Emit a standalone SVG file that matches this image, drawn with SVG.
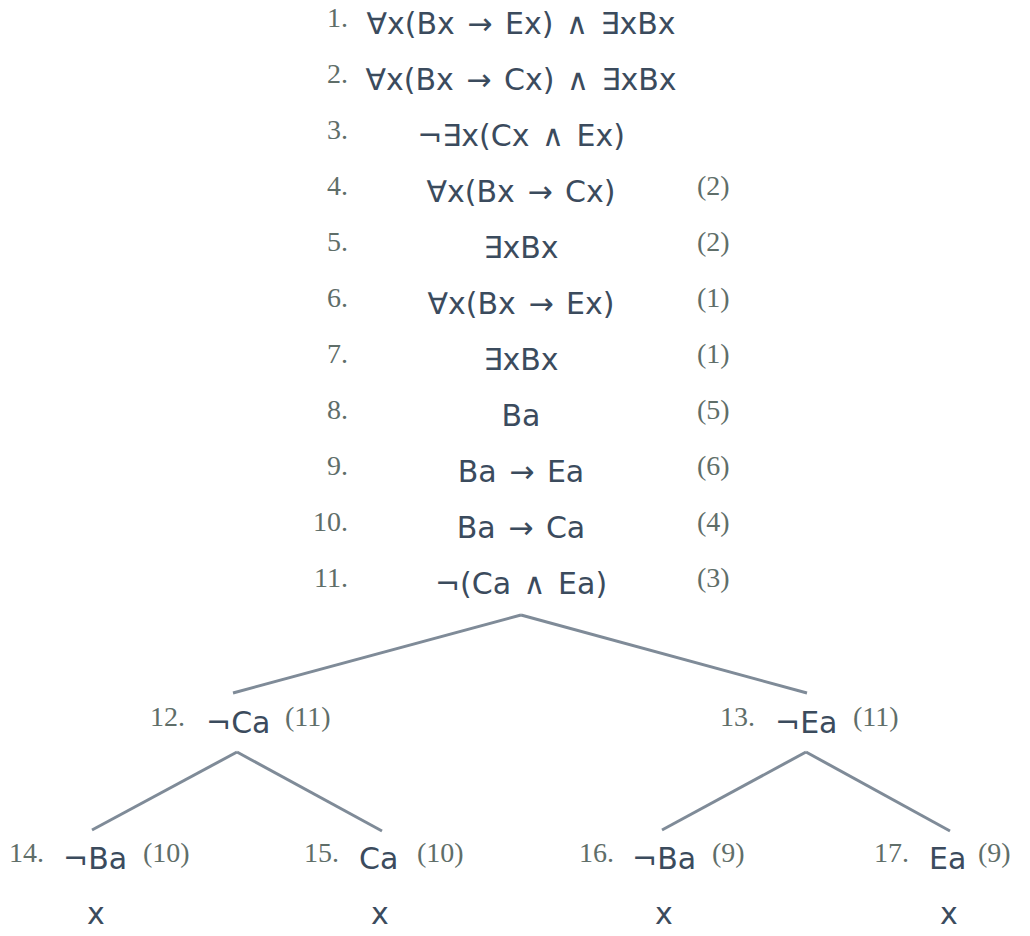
<svg xmlns="http://www.w3.org/2000/svg" width="1030" height="936" viewBox="0 0 1030 936">
<style>
.f{font-family:"DejaVu Sans",Verdana,sans-serif;font-size:30px;fill:#3b4b5d;word-spacing:3px}
.c{text-anchor:middle}
.n{font-family:"Liberation Serif","Times New Roman",serif;font-size:28px;fill:#5f6e69}
.r{text-anchor:end}
.ln{stroke:#7f8b98;stroke-width:3;fill:none}
</style>
<rect width="1030" height="936" fill="#ffffff"/>
<g id="connectors">
<line class="ln" x1="521" y1="615" x2="233" y2="693"/>
<line class="ln" x1="521" y1="615" x2="807" y2="693"/>
<line class="ln" x1="237" y1="752" x2="92" y2="830"/>
<line class="ln" x1="237" y1="752" x2="382" y2="831"/>
<line class="ln" x1="806" y1="752" x2="662" y2="830"/>
<line class="ln" x1="806" y1="752" x2="950" y2="831"/>
</g>
<g id="line1"><text class="n r" x="348" y="27">1.</text><text class="f c" x="521" y="34">∀x(Bx → Ex) ∧ ∃xBx</text></g>
<g id="line2"><text class="n r" x="348" y="83">2.</text><text class="f c" x="521" y="90">∀x(Bx → Cx) ∧ ∃xBx</text></g>
<g id="line3"><text class="n r" x="348" y="139">3.</text><text class="f c" x="521" y="146">¬∃x(Cx ∧ Ex)</text></g>
<g id="line4"><text class="n r" x="348" y="195">4.</text><text class="f c" x="521" y="202">∀x(Bx → Cx)</text><text class="n" x="697" y="195">(2)</text></g>
<g id="line5"><text class="n r" x="348" y="251">5.</text><text class="f c" x="521" y="258">∃xBx</text><text class="n" x="697" y="251">(2)</text></g>
<g id="line6"><text class="n r" x="348" y="307">6.</text><text class="f c" x="521" y="314">∀x(Bx → Ex)</text><text class="n" x="697" y="307">(1)</text></g>
<g id="line7"><text class="n r" x="348" y="363">7.</text><text class="f c" x="521" y="370">∃xBx</text><text class="n" x="697" y="363">(1)</text></g>
<g id="line8"><text class="n r" x="348" y="419">8.</text><text class="f c" x="521" y="426">Ba</text><text class="n" x="697" y="419">(5)</text></g>
<g id="line9"><text class="n r" x="348" y="475">9.</text><text class="f c" x="521" y="482">Ba → Ea</text><text class="n" x="697" y="475">(6)</text></g>
<g id="line10"><text class="n r" x="348" y="531">10.</text><text class="f c" x="521" y="538">Ba → Ca</text><text class="n" x="697" y="531">(4)</text></g>
<g id="line11"><text class="n r" x="348" y="587">11.</text><text class="f c" x="521" y="594">¬(Ca ∧ Ea)</text><text class="n" x="697" y="587">(3)</text></g>
<g id="node12"><text class="n" x="150" y="726">12.</text><text class="f" x="206" y="733">¬Ca</text><text class="n" x="285" y="726">(11)</text></g>
<g id="node13"><text class="n" x="720" y="726">13.</text><text class="f" x="775" y="733">¬Ea</text><text class="n" x="853" y="726">(11)</text></g>
<g id="node14"><text class="n" x="9" y="862">14.</text><text class="f" x="63" y="869">¬Ba</text><text class="n" x="143" y="862">(10)</text><text class="f c" x="96" y="924">x</text></g>
<g id="node15"><text class="n" x="304" y="862">15.</text><text class="f" x="359" y="869">Ca</text><text class="n" x="417" y="862">(10)</text><text class="f c" x="380" y="924">x</text></g>
<g id="node16"><text class="n" x="579" y="862">16.</text><text class="f" x="632" y="869">¬Ba</text><text class="n" x="712" y="862">(9)</text><text class="f c" x="664" y="924">x</text></g>
<g id="node17"><text class="n" x="874" y="862">17.</text><text class="f" x="929" y="869">Ea</text><text class="n" x="978" y="862">(9)</text><text class="f c" x="949" y="924">x</text></g>
</svg>
